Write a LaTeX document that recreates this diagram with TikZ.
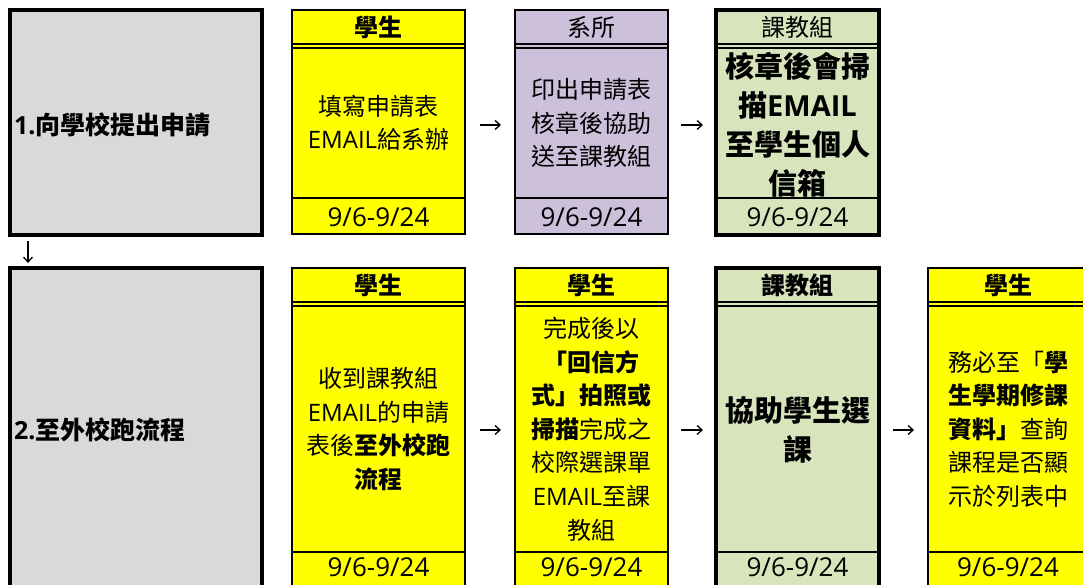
\documentclass[tikz,border=0pt]{standalone}
\usepackage{fontspec}
\setmainfont{Noto Sans CJK TC}
\newfontfamily\latf{Open Sans}
\usetikzlibrary{arrows.meta,calc}
\definecolor{grayfill}{HTML}{D9D9D9}
\definecolor{yel}{HTML}{FFFF00}
\definecolor{purp}{HTML}{CCC0DA}
\definecolor{grn}{HTML}{D8E4BC}
\newcommand\latn[1]{{\latf #1}}
\newcommand\bodyfont{\fontsize{24}{33.6}\selectfont}
\newcommand\bigfont{\fontsize{29}{39}\selectfont\bfseries}
\tikzset{
  cell/.style={draw, rectangle, line width=2.2pt, inner sep=0pt, outer sep=0pt, anchor=north west},
  thickcell/.style={cell, line width=4.4pt},
  sepline/.style={line width=2.2pt},
  hdr/.style={inner sep=0pt, font=\fontsize{24}{28}\selectfont},
  datetxt/.style={inner sep=0pt, font=\latf\fontsize{26}{30}\selectfont},
  body/.style={inner sep=0pt, align=center, font=\bodyfont},
  bigbody/.style={inner sep=0pt, align=center, font=\bigfont},
  grayl/.style={inner sep=0pt, anchor=west, font=\fontsize{25}{30}\selectfont\bfseries},
  conn/.style={line width=1.3pt, -{Straight Barb[length=5pt,width=9pt]}}
}
% #1 name, #2 (x,y), #3 width, #4 height, #5 style, #6 header, #7 date line offset, #8 date text offset
\newcommand\mkcell[8]{%
  \node[#5, minimum width=#3pt, minimum height=#4pt] (#1) at #2 {};
  \draw[sepline] ($(#1.north west)+(0,34)$) -- ($(#1.north east)+(0,34)$);
  \draw[sepline] ($(#1.north west)+(0,38)$) -- ($(#1.north east)+(0,38)$);
  \draw[sepline] ($(#1.north west)+(0,#7)$) -- ($(#1.north east)+(0,#7)$);
  \node[hdr] (#1h) at ($(#1.north)+(0,17)$) {#6};
  \node[datetxt] (#1d) at ($(#1.north)+(0,#8)$) {9/6-9/24};
}
\begin{document}
\begin{tikzpicture}[x=1pt,y=-1pt]
\useasboundingbox (0,0) rectangle (1083,584);
\clip (0,0) rectangle (1083,584);

% ---------- row 1 ----------
\node[thickcell, fill=grayfill, minimum width=252pt, minimum height=225pt] (g1) at (10,10) {};
\node[grayl] (g1t) at (14,125) {\latn{\bfseries 1.}向學校提出申請};

\mkcell{a1}{(292,10)}{173}{224}{cell, fill=yel}{\bfseries 學生}{188}{207}
\node[body] (a1b) at ($(a1.north)+(0,113)$) {填寫申請表\\\latn{EMAIL}給系辦};

\mkcell{a2}{(515,10)}{153}{224}{cell, fill=purp}{系所}{188}{207}
\node[body] (a2b) at ($(a2.north)+(0,113)$) {印出申請表\\核章後協助\\送至課教組};

\mkcell{a3}{(716,10)}{163}{225}{thickcell, fill=grn}{課教組}{188}{207}
\node[bigbody] (a3b) at ($(a3.north)+(0,115)$) {核章後會掃\\描\latn{\bfseries EMAIL}\\至學生個人\\信箱};

\draw[conn] ($(a1.east |- 0,125)+(15,0)$) -- ($(a2.west |- 0,125)+(-14,0)$);
\draw[conn] ($(a2.east |- 0,125)+(13,0)$) -- ($(a3.west |- 0,125)+(-13,0)$);

% ---------- row 2 ----------
\node[thickcell, fill=grayfill, minimum width=252pt, minimum height=360pt] (g2) at (10,268) {};
\node[grayl] (g2t) at (14,430) {\latn{\bfseries 2.}至外校跑流程};

% down arrow
\draw[conn] ($(g1.south west)+(18,6)$) -- ($(g2.north west)+(18,-5)$);

\mkcell{b1}{(292,268)}{173}{360}{cell, fill=yel}{\bfseries 學生}{284}{299}
\node[body] (b1b) at ($(b1.north)+(0,161)$) {收到課教組\\\latn{EMAIL}的申請\\表後\textbf{至外校跑}\\\textbf{流程}};

\mkcell{b2}{(515,268)}{153}{360}{cell, fill=yel}{\bfseries 學生}{284}{299}
\node[body] (b2b) at ($(b2.north)+(0,161)$) {完成後以\\\textbf{「回信方}\\\textbf{式」拍照或}\\\textbf{掃描}完成之\\校際選課單\\\latn{EMAIL}至課\\教組};

\mkcell{b3}{(716,268)}{163}{360}{thickcell, fill=grn}{\bfseries 課教組}{284}{299}
\node[bigbody] (b3b) at ($(b3.north)+(0,162)$) {協助學生選\\課};

\mkcell{b4}{(928,268)}{160}{360}{cell, fill=yel}{\bfseries 學生}{284}{299}
\node[body] (b4b) at ($(b4.north)+(0,161)$) {務必至「\textbf{學}\\\textbf{生學期修課}\\\textbf{資料」}查詢\\課程是否顯\\示於列表中};

\draw[conn] ($(b1.east |- 0,430)+(15,0)$) -- ($(b2.west |- 0,430)+(-14,0)$);
\draw[conn] ($(b2.east |- 0,430)+(13,0)$) -- ($(b3.west |- 0,430)+(-13,0)$);
\draw[conn] ($(b3.east |- 0,430)+(14,0)$) -- ($(b4.west |- 0,430)+(-14,0)$);
\end{tikzpicture}
\end{document}
